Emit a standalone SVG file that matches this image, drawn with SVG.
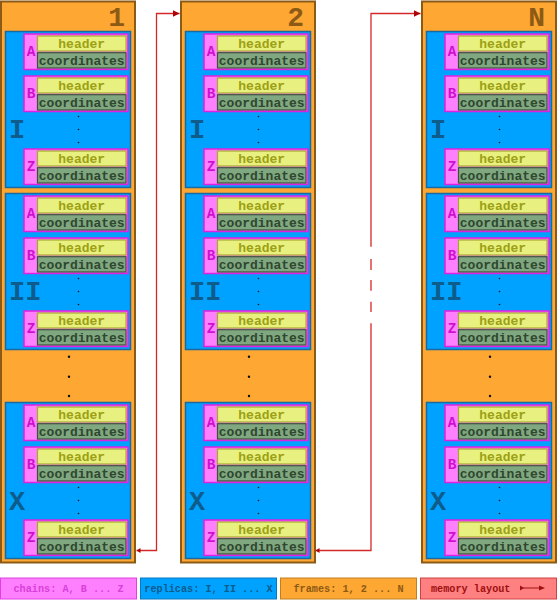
<svg xmlns="http://www.w3.org/2000/svg" width="557" height="600" viewBox="0 0 557 600">
<defs>
<style>
.frame{fill:#FFA733;stroke:#8C5A14;stroke-width:2}
.fnum{font-family:"Liberation Mono","DejaVu Sans Mono",monospace;font-weight:bold;font-size:28px;fill:#8C5A14;text-anchor:end}
.rep{fill:#00A2FF;stroke:#1A6AA0;stroke-width:1.5}
.rnum{font-family:"Liberation Mono","DejaVu Sans Mono",monospace;font-weight:bold;font-size:27px;fill:#0D5C8C}
.chain{fill:#FF80FF;stroke:#E020E0;stroke-width:1.5}
.cl{font-family:"Liberation Mono","DejaVu Sans Mono",monospace;font-weight:bold;font-size:14.5px;fill:#D010D0;text-anchor:middle}
.hdr{fill:#E8F080;stroke:#A8A830;stroke-width:1.2}
.crd{fill:#80A880;stroke:#405040;stroke-width:1.2}
.ht{font-family:"Liberation Mono","DejaVu Sans Mono",monospace;font-weight:bold;font-size:13px;fill:#9CA014;text-anchor:middle}
.ct{font-family:"Liberation Mono","DejaVu Sans Mono",monospace;font-weight:bold;font-size:13px;fill:#2F472F;text-anchor:middle}
.dot{fill:#111}
.conn{fill:none;stroke:#D42828;stroke-width:1.3}
.lt{font-family:"Liberation Mono","DejaVu Sans Mono",monospace;font-weight:bold;font-size:10.2px;text-anchor:middle}
</style>
<marker id="ah" markerWidth="8" markerHeight="8" refX="7" refY="3.5" orient="auto" markerUnits="userSpaceOnUse">
<path d="M0,0 L7,3.5 L0,7 z" fill="#B00000"/>
</marker>
<marker id="at" markerWidth="6" markerHeight="6" refX="0" refY="2.5" orient="auto" markerUnits="userSpaceOnUse">
<path d="M4,0 L0,2.5 L4,5 z" fill="#B00000"/>
</marker>
<g id="box">
<rect class="hdr" x="37.5" y="2" width="88.5" height="15"/>
<text class="ht" x="81.7" y="13.6">header</text>
<rect class="crd" x="37.5" y="18.7" width="88.5" height="15.3"/>
<text class="ct" x="81.7" y="30.6">coordinates</text>
</g>
<g id="rep">
<rect class="rep" x="5.5" y="0" width="125" height="156"/>
<rect class="chain" x="24" y="2.5" width="104" height="35.5"/>
<text class="cl" x="31" y="24.8">A</text>
<use href="#box" y="2.5"/>
<rect class="chain" x="24" y="44.5" width="104" height="35.5"/>
<text class="cl" x="31" y="66.8">B</text>
<use href="#box" y="44.5"/>
<circle class="dot" cx="78.5" cy="85" r="0.8"/>
<circle class="dot" cx="78.5" cy="98" r="0.8"/>
<circle class="dot" cx="78.5" cy="111" r="0.8"/>
<rect class="chain" x="24" y="117.5" width="104" height="35.5"/>
<text class="cl" x="31" y="139.8">Z</text>
<use href="#box" y="117.5"/>
</g>
<g id="frame">
<rect class="frame" x="1" y="1.5" width="134" height="561"/>
<use href="#rep" y="31.5"/>
<text class="rnum" x="9" y="138">I</text>
<use href="#rep" y="193.5"/>
<text class="rnum" x="9" y="300">II</text>
<circle class="dot" cx="69" cy="356.7" r="1.2"/>
<circle class="dot" cx="69" cy="376.7" r="1.2"/>
<circle class="dot" cx="69" cy="396" r="1.2"/>
<use href="#rep" y="402.5"/>
<text class="rnum" x="9" y="510">X</text>
</g>
</defs>

<g id="frame-1">
<use href="#frame" x="0"/>
<text class="fnum" x="125" y="26">1</text>
</g>
<g id="frame-2">
<use href="#frame" x="180"/>
<text class="fnum" x="304" y="26">2</text>
</g>
<g id="frame-N">
<use href="#frame" x="421"/>
<text class="fnum" x="545" y="26">N</text>
</g>

<g id="connectors">
<path class="conn" d="M136.5,550.5 H156.5 V13.5 H179.5" marker-start="url(#at)" marker-end="url(#ah)"/>
<path class="conn" d="M315.5,550.5 H371 V13.5 H420.5" stroke-dasharray="282.7 11.3 10.3 11 10.7 10 11 12.3 2000" marker-start="url(#at)" marker-end="url(#ah)"/>
</g>

<g id="legend">
<g id="legend-chains">
<rect x="0.5" y="578" width="136" height="21" fill="#FF80FF" stroke="#E040E0" stroke-width="1"/>
<text class="lt" x="68.5" y="591.5" fill="#D840D8">chains: A, B ... Z</text>
</g>
<g id="legend-replicas">
<rect x="140.5" y="578" width="136" height="21" fill="#00A2FF" stroke="#0A78C0" stroke-width="1"/>
<text class="lt" x="208.5" y="591.5" fill="#0D5C8C">replicas: I, II ... X</text>
</g>
<g id="legend-frames">
<rect x="280.5" y="578" width="136" height="21" fill="#FFA733" stroke="#C08020" stroke-width="1"/>
<text class="lt" x="348.5" y="591.5" fill="#8C5A14">frames: 1, 2 ... N</text>
</g>
<g id="legend-memory">
<rect x="420.5" y="578" width="136" height="21" fill="#FF8080" stroke="#D04040" stroke-width="1"/>
<text x="431" y="591.5" font-family="'Liberation Mono','DejaVu Sans Mono',monospace" font-weight="bold" font-size="10.2px" fill="#A01010">memory layout</text>
<line x1="520" y1="588" x2="543" y2="588" stroke="#A01010" stroke-width="1"/>
<path d="M520,585.5 L524,588 L520,590.5 z" fill="#A01010"/>
<path d="M539,585.5 L545,588 L539,590.5 z" fill="#A01010"/>
</g>
</g>
</svg>
